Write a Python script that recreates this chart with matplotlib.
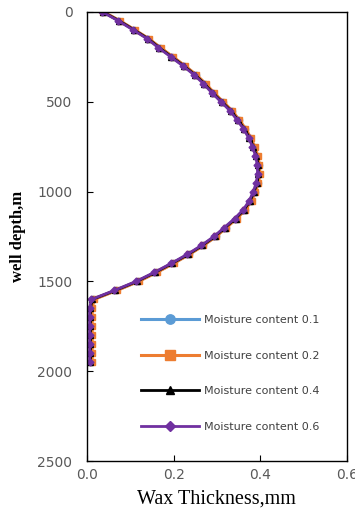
import matplotlib
matplotlib.use("Agg")
import matplotlib.pyplot as plt

depth = [0, 50, 100, 150, 200, 250, 300, 350, 400, 450, 500, 550, 600, 650, 700,
         750, 800, 850, 900, 950, 1000, 1050, 1100, 1150, 1200, 1250, 1300, 1350,
         1400, 1450, 1500, 1550, 1600, 1650, 1700, 1750, 1800, 1850, 1900, 1950]

wax_01 = [0.037, 0.075, 0.109, 0.142, 0.169, 0.197, 0.225, 0.251, 0.273, 0.292,
          0.313, 0.334, 0.350, 0.365, 0.377, 0.386, 0.393, 0.397, 0.398, 0.395,
          0.388, 0.379, 0.365, 0.345, 0.321, 0.297, 0.268, 0.235, 0.199, 0.160,
          0.118, 0.068, 0.014, 0.010, 0.010, 0.010, 0.010, 0.010, 0.010, 0.010]
wax_02 = [0.038, 0.076, 0.110, 0.143, 0.170, 0.198, 0.226, 0.252, 0.274, 0.293,
          0.314, 0.335, 0.351, 0.366, 0.378, 0.387, 0.394, 0.398, 0.399, 0.396,
          0.389, 0.380, 0.366, 0.346, 0.322, 0.298, 0.269, 0.236, 0.200, 0.161,
          0.119, 0.069, 0.016, 0.012, 0.012, 0.012, 0.012, 0.012, 0.012, 0.012]
wax_04 = [0.036, 0.074, 0.108, 0.141, 0.167, 0.195, 0.223, 0.249, 0.271, 0.290,
          0.311, 0.332, 0.348, 0.363, 0.375, 0.384, 0.391, 0.395, 0.396, 0.393,
          0.386, 0.377, 0.363, 0.343, 0.319, 0.295, 0.266, 0.233, 0.196, 0.157,
          0.115, 0.065, 0.012, 0.008, 0.008, 0.008, 0.008, 0.008, 0.008, 0.008]
wax_06 = [0.035, 0.072, 0.106, 0.139, 0.165, 0.193, 0.221, 0.247, 0.269, 0.288,
          0.309, 0.330, 0.346, 0.361, 0.373, 0.382, 0.389, 0.393, 0.394, 0.391,
          0.384, 0.375, 0.361, 0.341, 0.317, 0.293, 0.264, 0.231, 0.194, 0.155,
          0.113, 0.063, 0.010, 0.006, 0.006, 0.006, 0.006, 0.006, 0.006, 0.006]

labels = ["Moisture content 0.1", "Moisture content 0.2",
          "Moisture content 0.4", "Moisture content 0.6"]
colors = ["#5B9BD5", "#ED7D31", "#000000", "#7030A0"]
markers = ["o", "s", "^", "D"]
msizes = [4.5, 4.5, 4.0, 3.5]
lws = [2.2, 2.2, 2.0, 2.0]

fig = plt.figure(figsize=(3.55, 5.13), dpi=100)
ax = fig.add_axes([0.245, 0.101, 0.732, 0.876])

for series, lab, c, m, ms, lw in zip([wax_01, wax_02, wax_04, wax_06], labels,
                                     colors, markers, msizes, lws):
    ax.plot(series, depth, color=c, marker=m, markersize=ms, lw=lw, label=lab,
            markeredgecolor=c)

ax.set_xlim(0, 0.6)
ax.set_ylim(2500, 0)
ax.set_xticks([0.0, 0.2, 0.4, 0.6])
ax.set_xticklabels(["0.0", "0.2", "0.4", "0.6"])
ax.set_yticks([0, 500, 1000, 1500, 2000, 2500])
ax.tick_params(direction="in", length=4, width=0.8, labelsize=10,
               labelcolor="#595959")
ax.tick_params(axis="y", pad=10.5)
ax.tick_params(axis="x", pad=5)
for s in ax.spines.values():
    s.set_linewidth(1.0)

ax.set_xlabel("Wax Thickness,mm", family="Liberation Serif", fontsize=14.5,
              labelpad=5)
ax.set_ylabel("well depth,m", family="Liberation Serif", fontsize=12,
              fontweight="bold", labelpad=8)

leg = ax.legend(loc="upper left", bbox_to_anchor=(0.17, 0.347), frameon=False,
                fontsize=8, handlelength=5.2, labelspacing=2.3,
                handletextpad=0.5, labelcolor="#404040", markerscale=1.5)

fig.savefig("out.png", dpi=100)
